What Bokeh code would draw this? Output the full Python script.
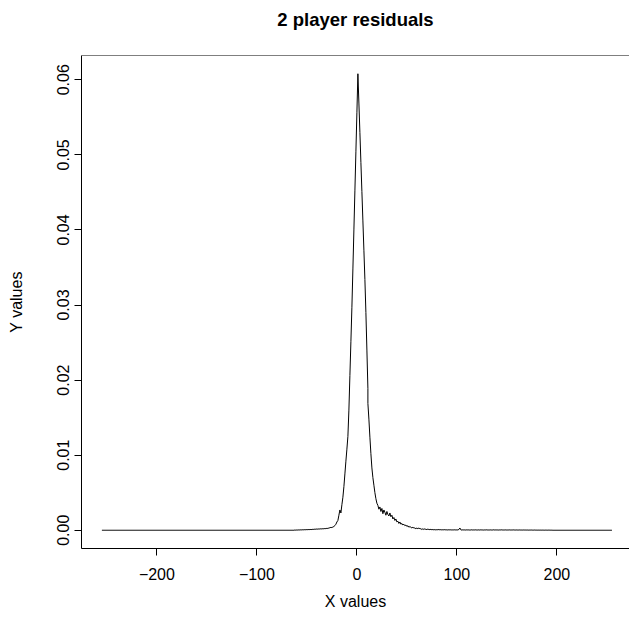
from bokeh.plotting import figure
from bokeh.models import Range1d, FixedTicker, Span
from bokeh.embed import file_html
from bokeh.resources import INLINE

# ---- data ----
x_values = list(range(-255, 12)) + list(range(11, 256))  # x = 11 appears twice

y_flat_left = [0.0] * 193  # x -255 .. -63
y_left_tail = [  # x -62 .. -21
    0.00003, 0.00001, 0.00004, 0.00002, 0.00005, 0.00003, 0.00006, 0.00004, 0.00007, 0.00005,
    0.00008, 0.00006, 0.00009, 0.00007, 0.00010, 0.00008, 0.00011, 0.00009, 0.00013, 0.00011,
    0.00015, 0.00013, 0.00017, 0.00014, 0.00018, 0.00016, 0.00020, 0.00017, 0.00021, 0.00019,
    0.00023, 0.00021, 0.00026, 0.00024, 0.00030, 0.00033, 0.00038, 0.00036, 0.00043, 0.00050,
    0.00062, 0.00080,
]
y_peak = [  # x -20 .. 20 (11 twice)
    0.0011, 0.0013, 0.0020, 0.0027, 0.0023, 0.0034, 0.0044, 0.0058, 0.0075, 0.0092,
    0.0108, 0.0125, 0.0160, 0.0206, 0.0251, 0.0297, 0.0348, 0.0400, 0.0452, 0.0504,
    0.0556, 0.0608, 0.0569, 0.0530, 0.0490, 0.0451, 0.0412, 0.0373, 0.0334, 0.0290,
    0.0240, 0.0189, 0.0169, 0.0148, 0.0124, 0.0102, 0.0083, 0.0070, 0.0060, 0.0050,
    0.0042, 0.0036,
]
y_right_tail = [  # x 21 .. 60
    0.0033, 0.0028, 0.0031, 0.0025, 0.0029, 0.0022, 0.0027, 0.0024, 0.0020, 0.0025,
    0.0021, 0.0019, 0.0023, 0.0018, 0.0020, 0.0015, 0.0017, 0.0013, 0.0015, 0.0011,
    0.0012, 0.0009, 0.0011, 0.0008, 0.0009, 0.0007, 0.0008, 0.0006, 0.0007, 0.0005,
    0.0006, 0.0004, 0.0005, 0.0004, 0.0003, 0.0004, 0.0003, 0.0003, 0.0002, 0.0003,
]
y_right_far = [  # x 61 .. 103
    0.0002, 0.0003, 0.0002, 0.0002, 0.0001, 0.0002, 0.0001, 0.0002, 0.0001, 0.0001,
    0.00015, 0.0001, 0.00008, 0.00012, 0.00006, 0.0001, 0.00005, 0.00009, 0.00004, 0.00008,
    0.00006, 0.0001, 0.00005, 0.00008, 0.00004, 0.00007, 0.00005, 0.00008, 0.00004, 0.00006,
    0.00003, 0.00007, 0.00004, 0.00006, 0.00003, 0.00005, 0.00004, 0.00006, 0.00003, 0.00005,
    0.00004, 0.0001, 0.0003,
]
y_right_noise = [  # x 104 .. 196
    0.00005, 0.00002, 0.00006, 0.00003, 0.00005, 0.00002, 0.00006, 0.00003, 0.00005, 0.00002,
    0.00004, 0.00006, 0.00002, 0.00005, 0.00003, 0.00006, 0.00002, 0.00004, 0.00005, 0.00002,
    0.00006, 0.00003, 0.00004, 0.00002, 0.00005, 0.00003, 0.00006, 0.00002, 0.00004, 0.00003,
    0.00005, 0.00002, 0.00004, 0.00006, 0.00002, 0.00005, 0.00003, 0.00004, 0.00002, 0.00005,
    0.00003, 0.00006, 0.00002, 0.00004, 0.00003, 0.00005, 0.00002, 0.00004, 0.00003, 0.00005,
    0.00002, 0.00004, 0.00003, 0.00005, 0.00002, 0.00003, 0.00004, 0.00002, 0.00003, 0.00004,
    0.00002, 0.00003, 0.00002, 0.00004, 0.00002, 0.00003, 0.00002, 0.00003, 0.00001, 0.00003,
    0.00002, 0.00003, 0.00001, 0.00002, 0.00003, 0.00001, 0.00002, 0.00001, 0.00002, 0.00001,
    0.00002, 0.00001, 0.00002, 0.00001, 0.00001, 0.00002, 0.00001, 0.00001, 0.00002, 0.00001,
    0.00001, 0.00001, 0.00000,
]
y_flat_right = [0.0] * 59  # x 197 .. 255

y_values = (y_flat_left + y_left_tail + y_peak + y_right_tail
            + y_right_far + y_right_noise + y_flat_right)

x_ticks = [-200, -100, 0, 100, 200]
x_tick_labels = ["\u2212200", "\u2212100", "0", "100", "200"]
y_ticks = [0.00, 0.01, 0.02, 0.03, 0.04, 0.05, 0.06]
y_tick_labels = ["0.00", "0.01", "0.02", "0.03", "0.04", "0.05", "0.06"]

title_text = "2 player residuals"
x_label = "X values"
y_label = "Y values"

# ---- figure ----
FONT = "Liberation Sans"
x_lo, x_hi = -275.4, 272.6
y_lo, y_hi = -0.002432, 0.063232

p = figure(width=629, height=618, output_backend="svg", toolbar_location=None,
           x_range=Range1d(x_lo, x_hi), y_range=Range1d(y_lo, y_hi),
           min_border_left=81, min_border_right=0, min_border_top=55,
           min_border_bottom=70, title=title_text + "\n ")

p.background_fill_color = "white"
p.border_fill_color = "white"
p.outline_line_color = None
p.xgrid.grid_line_color = None
p.ygrid.grid_line_color = None

# title: second (blank) line keeps the text well above the box, as in the reference
p.title.align = "center"
p.title.text_font = FONT
p.title.text_font_size = "18.5px"
p.title.text_font_style = "bold"
p.title.text_color = "black"
p.title.standoff = 9

p.line(x_values, y_values, line_color="black", line_width=1)

# top edge of the box
p.add_layout(Span(location=y_hi, dimension="width", line_color="black", line_width=1))

for ax in (p.xaxis[0], p.yaxis[0]):
    ax.axis_line_color = "black"
    ax.axis_line_width = 1
    ax.major_tick_line_color = "black"
    ax.major_tick_out = 7
    ax.major_tick_in = 0
    ax.minor_tick_line_color = None
    ax.major_label_text_font = FONT
    ax.major_label_text_font_size = "16px"
    ax.major_label_text_color = "black"
    ax.axis_label_text_font = FONT
    ax.axis_label_text_font_size = "16px"
    ax.axis_label_text_font_style = "normal"
    ax.axis_label_text_color = "black"

p.xaxis[0].ticker = FixedTicker(ticks=x_ticks)
p.xaxis[0].major_label_overrides = dict(zip(x_ticks, x_tick_labels))
p.xaxis[0].axis_label = x_label
p.xaxis[0].major_label_standoff = 12
p.xaxis[0].axis_label_standoff = 10

p.yaxis[0].ticker = FixedTicker(ticks=y_ticks)
p.yaxis[0].major_label_overrides = dict(zip(y_ticks, y_tick_labels))
p.yaxis[0].axis_label = y_label
p.yaxis[0].major_label_orientation = "vertical"
p.yaxis[0].major_label_standoff = 5
p.yaxis[0].axis_label_standoff = 30

open("out.html", "w").write(file_html(p, INLINE))
